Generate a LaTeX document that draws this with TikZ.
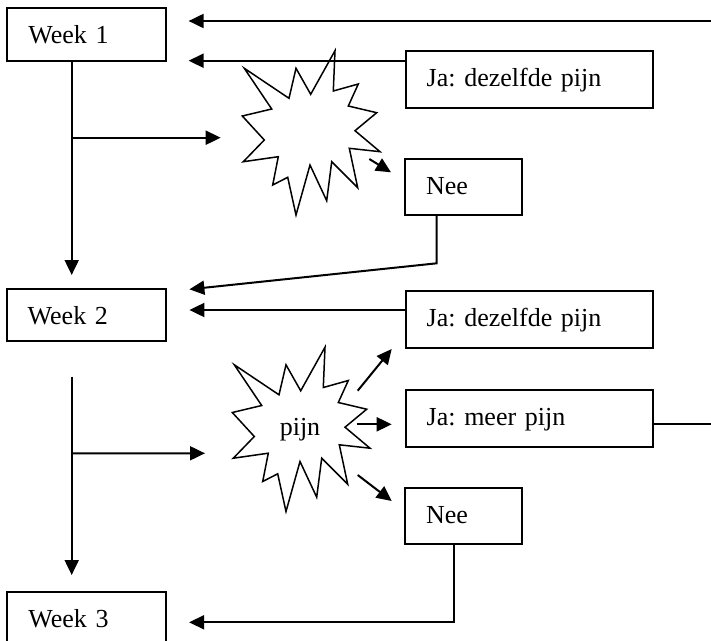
\documentclass[tikz,border=0pt]{standalone}
\usepackage{fontspec}
\setmainfont{Liberation Serif}
\usetikzlibrary{arrows.meta,calc}
\frenchspacing
\begin{document}
\begin{tikzpicture}[x=1pt,y=-1pt,
  txt/.style={font=\fontsize{26}{30}\selectfont},
  box/.style={txt, draw, line width=2pt, outer sep=0pt, inner xsep=21pt, inner ysep=0pt,
    text height=35.5pt, align=left, anchor=north west},
  weekbox/.style={box, text width=117pt},
  longbox/.style={box, text width=205.6pt},
  neebox/.style={box, text width=74.7pt},
  arr/.style={line width=2pt, -{Triangle[length=15pt,width=14pt]}},
  burst/.pic={\draw[line width=1.5pt]
    (-65.7,-64.7) -- (-21,-34.7) -- (-14,-64.7) -- (0.7,-38.7) -- (25,-82.3) --
    (23.3,-42) -- (48.3,-49) -- (38.3,-27) -- (66.7,-20.3) -- (45,-2.3) --
    (70,18.7) -- (39.3,15.3) -- (47.7,54.7) -- (21.7,28.7) -- (16.7,67.7) --
    (0,32) -- (-14,82) -- (-22.3,44.3) -- (-37.3,52) -- (-31.7,23.7) --
    (-66.7,28.7) -- (-45.7,7) -- (-67.7,-17) -- (-38.3,-24) -- cycle;}
]
\useasboundingbox (0,0) rectangle (711,640);
\clip (0,0) rectangle (711,640);

% boxes
\node[weekbox, text depth=16.9pt] (w1) at (7.3,8.3) {Week 1};
\node[weekbox, text depth=16.2pt] (w2) at (6.7,289) {Week 2};
\node[weekbox, text depth=16.5pt] (w3) at (7.3,591.7) {Week 3};
\node[longbox, text depth=21.8pt] (ja1) at (405.7,51) {Ja: dezelfde pijn};
\node[neebox, text depth=20.2pt] (nee1) at (405,159.3) {Nee};
\node[longbox, text depth=21.5pt] (ja2) at (405.7,290.7) {Ja: dezelfde pijn};
\node[longbox, text depth=21.5pt] (meer) at (405.7,390.3) {Ja: meer pijn};
\node[neebox, text depth=20.5pt] (nee2) at (405,488.3) {Nee};

% bursts
\coordinate (s1) at (310,133);
\pic at (s1) {burst};
\node[txt, inner sep=0pt] (s2) at (300,429.5) {pijn};
\pic at (s2) {burst};

% week 1 flow
\draw[arr] ($(w1.south west)+(64.4,0)$) -- ($(w2.north west)+(65,-14)$);
\coordinate (t1) at (220.7,137.7);
\draw[arr] ($(w1.south west)+(64.4,77)$) -- (t1);
\coordinate (a1) at (369.3,159);
\draw[arr] (a1) -- ($(nee1.north west)+(-14,13)$);
\draw[arr] (ja1.west |- w1.south) -- ($(w1.south east)+(22.3,0)$);
\draw[arr] ($(nee1.south west)+(31.7,0)$) -- ++(0,48.3) -- ($(w2.north east)+(23.7,0.3)$);

% week 2 flow
\draw[arr] ($(ja2.north west)+(0,19.3)$) -- ($(w2.north east)+(23.7,21)$);
\draw[arr] ($(w2.south west)+(65,36)$) -- ($(w3.north west)+(64.4,-16.7)$);
\coordinate (t2) at (205,453.3);
\draw[arr] ($(w2.south west)+(65,112.6)$) -- (t2);
\coordinate (a2) at (357.7,390.7);
\draw[arr] (a2) -- ($(ja2.south west)+(-14,1.3)$);
\coordinate (a3) at (356.7,424.3);
\draw[arr] (a3) -- ($(meer.west)+(-14,5.5)$);
\coordinate (a4) at (357.7,475);
\draw[arr] (a4) -- ($(nee2.north west)+(-13.3,12.7)$);
\draw[arr] ($(meer.east)+(0,5)$) -- ++(80,0) |- ($(w1.north east)+(22.3,12.7)$);
\draw[arr] ($(nee2.south west)+(49.3,0)$) -- ++(0,78) -- ($(w3.north east)+(22.8,30.6)$);
\end{tikzpicture}
\end{document}
